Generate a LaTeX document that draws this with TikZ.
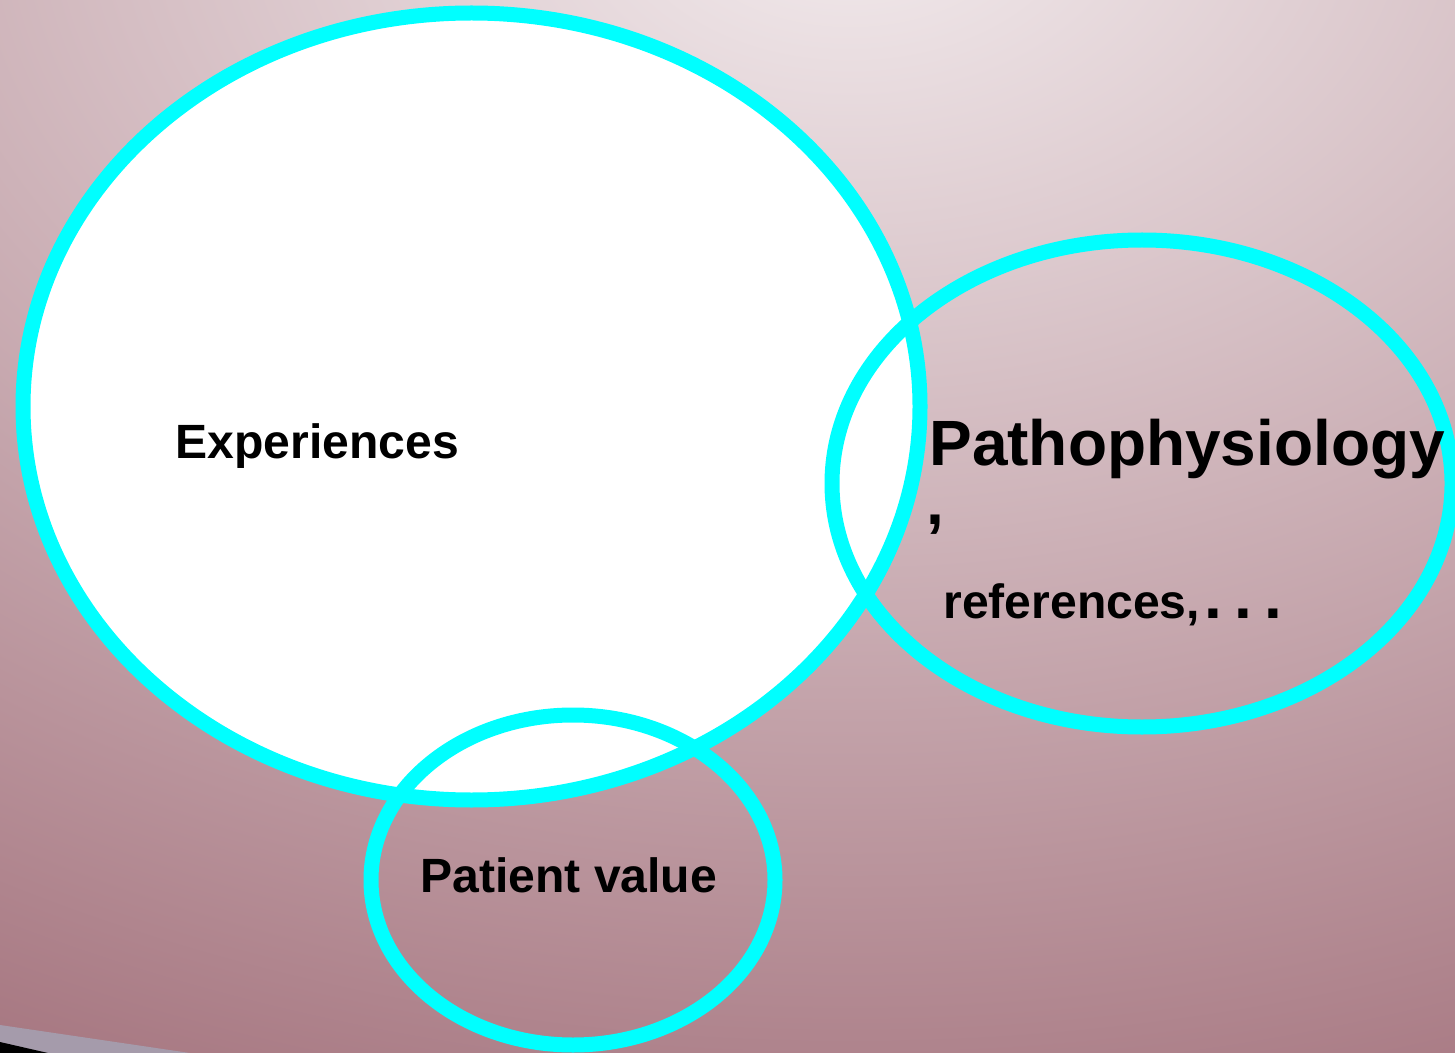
\documentclass[tikz,border=0pt]{standalone}
\usepackage{fontspec}
\setmainfont{Liberation Sans}
\usetikzlibrary{calc}
\usepackage{xcolor}
\definecolor{ringcyan}{RGB}{0,255,255}
\definecolor{bglight}{RGB}{243,236,238}
\definecolor{bgdark}{RGB}{166,118,128}
\definecolor{curlgray}{RGB}{165,155,171}

\begin{document}
\begin{tikzpicture}[x=.5pt,y=-.5pt,
  lbl/.style={font=\fontsize{24.05}{28}\selectfont\bfseries, inner sep=0, anchor=base west},
  biglbl/.style={font=\fontsize{32}{36}\selectfont\bfseries, inner sep=0, anchor=base west}]
\useasboundingbox (0,0) rectangle (1455,1053);
\begin{scope}
\clip (0,0) rectangle (1455,1053);
\shade[inner color=bglight, outer color=bgdark] (850,-100) ellipse [x radius=1900, y radius=1300];
\fill[curlgray] (0,1025)--(190,1053)--(0,1053)--cycle;
\fill[black] (0,1042)--(48,1053)--(0,1053)--cycle;
\fill[white] (471.5,406.5) ellipse [x radius=448.5, y radius=393.5];
\foreach \cx/\cy/\rx/\ry in {471.5/406.5/448.5/393.5, 1142/483.5/310/243.5, 573/880/202/165}
 \draw[ringcyan, line width=7.5pt] (\cx,\cy) ellipse [x radius=\rx, y radius=\ry];
\end{scope}
\node[lbl] (exp) at (175,458) {Experiences};
\node[biglbl] (patho) at (929,465) {Pathophysiology};
\node[biglbl] (comma) at (926,524) {,};
\node[lbl] (refs) at (943,618) {references,\hspace{2pt}{\fontsize{32}{32}\selectfont\spaceskip=3.2pt . . .}};
\node[lbl] (value) at (420,892) {Patient value};
\end{tikzpicture}
\end{document}
